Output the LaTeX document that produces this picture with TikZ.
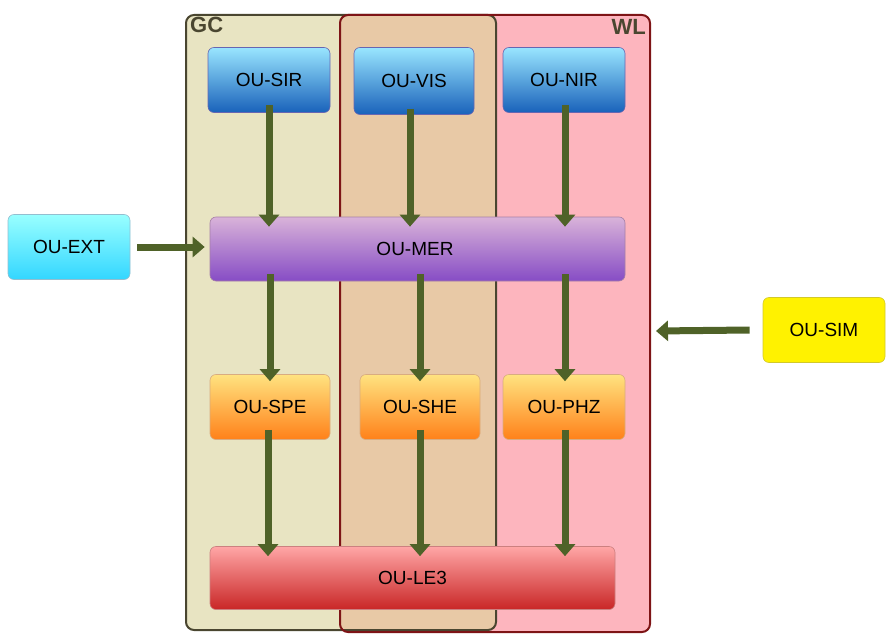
\documentclass[tikz,border=0pt]{standalone}
\usepackage{fontspec}
\setmainfont{Liberation Sans}
\usetikzlibrary{arrows.meta,positioning}
\definecolor{gcfill}{HTML}{E8E4C2}
\definecolor{gcline}{HTML}{4A4630}
\definecolor{wlfill}{HTML}{FDB5BE}
\definecolor{wlline}{HTML}{7E1416}
\definecolor{ovfill}{HTML}{E8C9A6}
\definecolor{arr}{HTML}{4F6228}
\begin{document}
\begin{tikzpicture}[x=1pt,y=-1pt,
  box/.style={draw=#1!70!black,rounded corners=6pt,line width=0.6pt,font=\fontsize{19}{22}\selectfont,inner sep=0pt},
  blue/.style={box=blue,top color=blue!25!cyan!40!white,bottom color=blue!55!cyan!70!black!90,draw=blue!50!black!60},
  purp/.style={box=violet,top color=violet!30!white,bottom color=violet!65!blue!70,draw=violet!60!black!50},
  oran/.style={box=orange,top color=orange!45!yellow!50!white,bottom color=orange!90!red!90,draw=orange!70!black!50},
  red/.style={box=red,top color=red!35!white,bottom color=red!75!black!85,draw=red!60!black!50},
  cyanb/.style={box=cyan,top color=cyan!40!white,bottom color=cyan!80!blue!80,draw=cyan!60!black!50},
  yel/.style={box=yellow,fill=yellow,draw=yellow!80!black},
  bar/.style={line width=7pt,draw=arr,-{Triangle[width=20pt,length=12pt]}},
  grp/.style={rounded corners=8pt,line width=2pt}]
\useasboundingbox (0,0) rectangle (892,642);
% groups
\fill[gcfill,rounded corners=8pt] (186,15) rectangle (496,630);
\fill[wlfill,rounded corners=8pt] (340,15) rectangle (650,632);
\fill[ovfill] (341,16) rectangle (495,629);
\draw[grp,draw=gcline] (186,15) rectangle (496,630);
\draw[grp,draw=wlline] (340,15) rectangle (650,632);
\node[font=\bfseries\fontsize{22}{24}\selectfont,text=gcline,anchor=north west,inner sep=0pt] (gc) at (190,17) {GC};
\node[font=\bfseries\fontsize{22}{24}\selectfont,text=gcline,anchor=north east,inner sep=0pt] (wl) at (646,19) {WL};
% nodes
\node[blue,minimum width=122pt,minimum height=65pt] (sir) at (269,80) {OU-SIR};
\node[blue,minimum width=120pt,minimum height=67pt] (vis) at (414,81) {OU-VIS};
\node[blue,minimum width=122pt,minimum height=65pt] (nir) at (564,80) {OU-NIR};
\node[purp,minimum width=415pt,minimum height=64pt] (mer) at (417.5,249) {\hspace*{-5pt}OU-MER\hspace*{0pt}};
\node[cyanb,minimum width=122pt,minimum height=65pt] (ext) at (69,247) {OU-EXT};
\node[yel,minimum width=122pt,minimum height=65pt] (sim) at (824,330) {OU-SIM};
\node[oran,minimum width=120pt,minimum height=65pt] (spe) at (270,407) {OU-SPE};
\node[oran,minimum width=120pt,minimum height=65pt] (she) at (420,407) {OU-SHE};
\node[oran,minimum width=122pt,minimum height=65pt] (phz) at (564,407) {OU-PHZ};
\node[red,minimum width=405pt,minimum height=63pt] (le3) at (412.5,578) {OU-LE3};
\coordinate (simend) at (656,331);
% arrows
\draw[bar] ([yshift=8pt]sir.south) -- ([yshift=-10pt]sir.south |- mer.north);
\draw[bar] ([yshift=6pt]vis.south -| 410,0) -- ([yshift=-10pt]410,0 |- mer.north);
\draw[bar] ([yshift=8pt]nir.south -| 565,0) -- ([yshift=-10pt]565,0 |- mer.north);
\draw[bar] ([yshift=7pt]mer.south -| 270,0) -- ([yshift=-7pt]270,0 |- spe.north);
\draw[bar] ([yshift=7pt]mer.south -| 420,0) -- ([yshift=-7pt]420,0 |- she.north);
\draw[bar] ([yshift=7pt]mer.south -| 565,0) -- ([yshift=-7pt]565,0 |- phz.north);
\draw[bar] ([yshift=10pt]spe.south -| 268,0) -- ([yshift=-10pt]268,0 |- le3.north);
\draw[bar] ([yshift=10pt]she.south -| 420,0) -- ([yshift=-10pt]420,0 |- le3.north);
\draw[bar] ([yshift=10pt]phz.south -| 565,0) -- ([yshift=-10pt]565,0 |- le3.north);
\draw[bar] ([xshift=7pt]ext.east) -- ([xshift=-5pt]mer.west |- ext.east);
\draw[bar] ([xshift=-13pt]sim.west) -- (simend);
\end{tikzpicture}
\end{document}
